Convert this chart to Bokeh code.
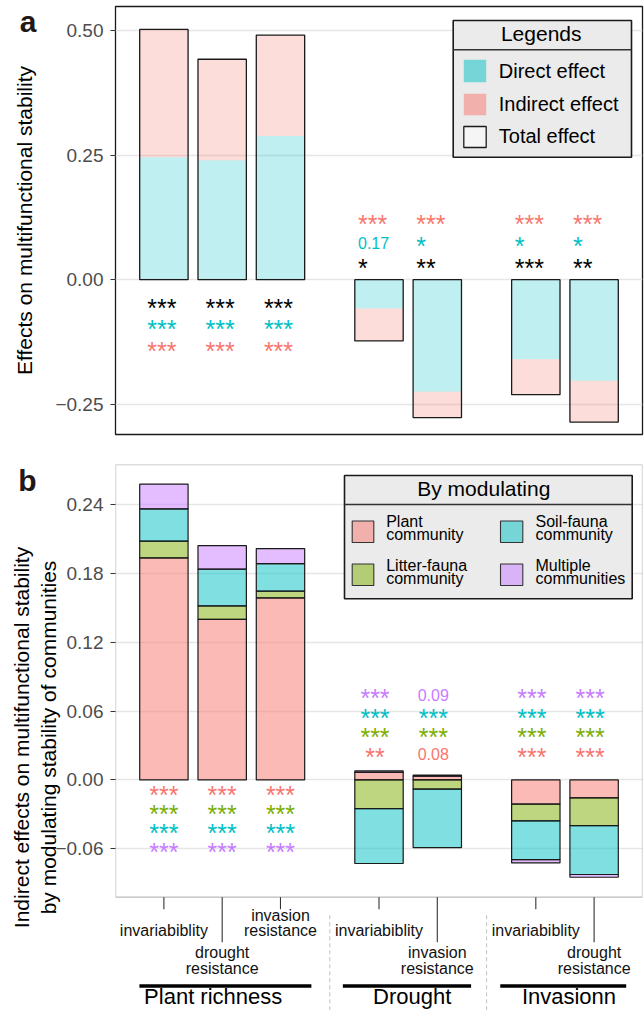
import numpy as np
from bokeh.plotting import figure
from bokeh.models import FactorRange, Range1d, FixedTicker, ColumnDataSource, BoxAnnotation, LinearAxis
from bokeh.layouts import column
from bokeh.embed import file_html
from bokeh.resources import INLINE
from bokeh.core.properties import value, field

FONT = "Liberation Sans"

# ---------------- data ----------------
groups = ["Plant richness", "Plant richness", "Plant richness", "Drought", "Drought", "Invasionn", "Invasionn"]
responses = ["invariabiblity", "drought resistance", "invasion resistance",
             "invariabiblity", "invasion resistance", "invariabiblity", "drought resistance"]
group_names = ["Plant richness", "Drought", "Invasionn"]

# panel a
direct_effect = [0.246, 0.240, 0.289, -0.058, -0.225, -0.160, -0.203]
indirect_effect = [0.257, 0.203, 0.2025, -0.065, -0.052, -0.071, -0.083]
sig_total = ["***", "***", "***", "*", "**", "***", "**"]
sig_direct = ["***", "***", "***", "0.17", "*", "*", "*"]
sig_indirect = ["***", "***", "***", "***", "***", "***", "***"]

# panel b
via_plant = [0.1936, 0.1401, 0.1587, 0.0066, 0.0032, -0.0212, -0.0157]
via_litter = [0.0146, 0.0117, 0.0059, -0.0250, -0.0081, -0.0145, -0.0241]
via_soil = [0.0282, 0.0320, 0.0241, -0.0479, -0.0509, -0.0338, -0.0427]
via_multiple = [0.0215, 0.0206, 0.0131, 0.0012, 0.0010, -0.0029, -0.0024]
sig_plant = ["***", "***", "***", "**", "0.08", "***", "***"]
sig_litter = ["***", "***", "***", "***", "***", "***", "***"]
sig_soil = ["***", "***", "***", "***", "***", "***", "***"]
sig_multiple = ["***", "***", "***", "***", "0.09", "***", "***"]

a_ticks = [-0.25, 0.0, 0.25, 0.5]
a_tick_labels = ["\u22120.25", "0.00", "0.25", "0.50"]
b_ticks = [-0.06, 0.0, 0.06, 0.12, 0.18, 0.24]
b_tick_labels = ["\u22120.06", "0.00", "0.06", "0.12", "0.18", "0.24"]

title_a = "Effects on multifunctional stability"
title_b = "Indirect effects on multifunctional stability\nby modulating stability of communities"
legend_a_labels = ["Direct effect", "Indirect effect", "Total effect"]
legend_b_labels = [["Plant", "community"], ["Litter-fauna", "community"],
                   ["Soil-fauna", "community"], ["Multiple", "communities"]]

# ---------------- colours ----------------
C_RED, C_GREEN, C_CYAN, C_PURPLE = "#F8766D", "#7CAE00", "#00BFC4", "#C77CFF"

# ---------------- layout ----------------
W, ML, MR = 644, 115, 2
FW = W - ML - MR
A_TOP, A_BOT = 6, 10
FHA = 428
A_H = A_TOP + FHA + A_BOT
B_TOP = 20
B_H = 1010 - A_H
FHB = B_H - B_TOP
A_RANGE = (-0.311, 0.549)
B_END, B_BOX = 0.2751, -0.1023
BOX_PX = 432.7
PXB = BOX_PX / (B_END - B_BOX)
B_START = B_END - FHB / PXB
PXA = FHA / (A_RANGE[1] - A_RANGE[0])

GP, RP = 0.69, 0.33
X_START = -RP
X_END = len(responses) + GP * (len(group_names) - 1) + RP
PXU = FW / (X_END - X_START)
BW = 0.83
MID = 0.35  # baseline -> middle of the em box, in em


def xs_(px):
    return X_START + px / PXU


def ya(px):
    return A_RANGE[1] - px / PXA


def yb(px):
    return B_END - px / PXB


def ybox(px):
    return B_BOX - px / PXB


def txt(p, x, y, text, size, align="left", color="#000000", xoff=0):
    """y is the text baseline; drawn with a 'middle' baseline shifted up."""
    p.text(x=x, y=y, text=text, text_align=align, text_baseline="middle",
           y_offset=-MID * size, x_offset=xoff, text_font=value(FONT),
           text_font_size=f"{size}px", text_color=color)


factors = list(zip(groups, responses))
xr = FactorRange(factors=factors, group_padding=GP, factor_padding=0.0,
                 range_padding=RP, range_padding_units="absolute")


def style(p, ticks, labels, title, title_standoff, letter, letter_y):
    p.yaxis.ticker = FixedTicker(ticks=ticks)
    p.ygrid.ticker = FixedTicker(ticks=ticks)
    ax = p.yaxis[0]
    ax.major_label_overrides = {t: l for t, l in zip(ticks, labels)}
    ax.major_label_text_font = FONT
    ax.major_label_text_font_size = "19px"
    ax.major_label_text_color = "#4D4D4D"
    ax.major_label_standoff = 7
    ax.major_tick_out = 5
    ax.major_tick_in = 0
    ax.major_tick_line_color = "#333333"
    ax.major_tick_line_width = 1.1
    ax.minor_tick_line_color = None
    ax.axis_line_color = None
    p.ygrid.grid_line_color = "#E6E6E6"
    p.ygrid.grid_line_width = 1.6
    p.xgrid.grid_line_color = None
    # outer axis: carries the panel letter (as its only tick label) and the axis title
    outer = LinearAxis(ticker=FixedTicker(ticks=[letter_y]),
                       major_label_overrides={letter_y: letter},
                       major_label_text_font=FONT, major_label_text_font_size="30px",
                       major_label_text_font_style="bold", major_label_text_color="#231815",
                       major_label_standoff=16, major_tick_out=0, major_tick_in=0,
                       major_tick_line_color=None, minor_tick_line_color=None,
                       axis_line_color=None,
                       axis_label=title, axis_label_text_font=FONT,
                       axis_label_text_font_size="21px", axis_label_text_font_style="normal",
                       axis_label_text_color="#000000", axis_label_standoff=title_standoff)
    p.add_layout(outer, "left")


def sig_layer(p, xs, ys, texts, colors, align, xoff):
    sizes = ["16px" if t[0].isdigit() else "25px" for t in texts]
    yoffs = [0 if t[0].isdigit() else 3 for t in texts]
    src = ColumnDataSource(dict(x=xs, y=ys, t=texts, c=colors, s=sizes, yo=yoffs))
    p.text(x="x", y="y", text="t", text_color=field("c"), text_font_size=field("s"),
           y_offset=field("yo"), x_offset=xoff, text_align=align, text_baseline="middle",
           text_font=value(FONT), source=src)


# ================= panel a =================
pa = figure(width=W, height=A_H, x_range=xr, y_range=Range1d(*A_RANGE),
            output_backend="svg", toolbar_location=None, tools="", x_axis_location=None,
            min_border_left=ML, min_border_right=MR, min_border_top=A_TOP, min_border_bottom=A_BOT,
            background_fill_color="white", border_fill_color="white",
            outline_line_color="#1A1A1A", outline_line_width=1.3)
style(pa, a_ticks, a_tick_labels, title_a, -19, "a", ya(15))

direct = np.array(direct_effect)
total = direct + np.array(indirect_effect)
src_a = ColumnDataSource(dict(x=factors, direct=direct, total=total))
pa.vbar(x="x", bottom=0, top="direct", width=BW, fill_color=C_CYAN, fill_alpha=0.25,
        line_color=None, source=src_a)
pa.vbar(x="x", bottom="direct", top="total", width=BW, fill_color=C_RED, fill_alpha=0.25,
        line_color=None, source=src_a)
pa.vbar(x="x", bottom=0, top="total", width=BW, fill_color=None, line_color="#1A1A1A",
        line_width=1.3, source=src_a)

rows_a = [(sig_total, "#000000"), (sig_direct, C_CYAN), (sig_indirect, C_RED)]
for side in ("pos", "neg"):
    xs, ys, ts, cs = [], [], [], []
    for k, (labels, col) in enumerate(rows_a):
        for i, f in enumerate(factors):
            if (total[i] > 0) != (side == "pos"):
                continue
            xs.append(f)
            ys.append(-0.050 - 0.0435 * k if side == "pos" else 0.030 + 0.0445 * k)
            ts.append(labels[i])
            cs.append(col)
    if side == "pos":
        sig_layer(pa, xs, ys, ts, cs, "center", -2)
    else:
        sig_layer(pa, xs, ys, ts, cs, "left", -21)

# legend a
pa.quad(left=[xs_(337.7)], right=[xs_(516)], top=[ya(14)], bottom=[ya(150.7)],
        fill_color="#EBEBEB", line_color="#1A1A1A", line_width=1.6)
pa.segment(x0=[xs_(337.7)], x1=[xs_(516)], y0=[ya(43.3)], y1=[ya(43.3)],
           line_color="#333333", line_width=1.5)
txt(pa, [xs_(425.7)], [ya(34)], ["Legends"], 21, align="center")
key_tops = [53.3, 87.3, 120]
key_bots = [75.7, 108.7, 141]
pa.quad(left=[xs_(348.3)] * 2, right=[xs_(370.7)] * 2, top=[ya(key_tops[0]), ya(key_tops[1])],
        bottom=[ya(key_bots[0]), ya(key_bots[1])], fill_color=[C_CYAN, C_RED], fill_alpha=0.5,
        line_color=None)
pa.quad(left=[xs_(348.3)], right=[xs_(370.7)], top=[ya(key_tops[2])], bottom=[ya(key_bots[2])],
        fill_color="white", fill_alpha=0.5, line_color="#1A1A1A", line_width=1.3)
txt(pa, [xs_(383.3)] * 3, [ya(71.3), ya(104.3), ya(136.7)], legend_a_labels, 20)

# ================= panel b =================
pb = figure(width=W, height=B_H, x_range=xr, y_range=Range1d(B_START, B_END),
            output_backend="svg", toolbar_location=None, tools="", x_axis_location=None,
            min_border_left=ML, min_border_right=MR, min_border_top=B_TOP, min_border_bottom=0,
            background_fill_color="white", border_fill_color="white", outline_line_color=None)
style(pb, b_ticks, b_tick_labels, title_b, -45, "b", yb(15.6))

pb.add_layout(BoxAnnotation(bottom=B_BOX, fill_color=None, fill_alpha=0,
                            line_color="#1A1A1A", line_width=1.3, level="overlay"))

layers = [(via_plant, C_RED), (via_litter, C_GREEN), (via_soil, C_CYAN), (via_multiple, C_PURPLE)]
pos = np.zeros(len(factors))
neg = np.zeros(len(factors))
net = np.zeros(len(factors))
for vals, col in layers:
    v = np.array(vals)
    bottom = np.where(v >= 0, pos, neg)
    top = bottom + v
    pos = np.where(v >= 0, top, pos)
    neg = np.where(v < 0, top, neg)
    net = net + v
    pb.vbar(x=factors, bottom=bottom, top=top, width=BW, fill_color=col, fill_alpha=0.5,
            line_color="#1A1A1A", line_width=1.2)

rows_b = [(sig_plant, C_RED), (sig_litter, C_GREEN), (sig_soil, C_CYAN), (sig_multiple, C_PURPLE)]
for side in ("pos", "neg"):
    xs, ys, ts, cs = [], [], [], []
    for k, (labels, col) in enumerate(rows_b):
        for i, f in enumerate(factors):
            if (net[i] > 0) != (side == "pos"):
                continue
            xs.append(f)
            ys.append(-0.0105 - 0.0167 * k if side == "pos" else 0.023 + 0.017 * k)
            ts.append(labels[i])
            cs.append(col)
    sig_layer(pb, xs, ys, ts, cs, "center", 0 if side == "pos" else -4)

# legend b
pb.quad(left=[xs_(229)], right=[xs_(516.7)], top=[yb(11)], bottom=[yb(134.3)],
        fill_color="#EBEBEB", line_color="#1A1A1A", line_width=1.6)
pb.segment(x0=[xs_(229)], x1=[xs_(516.7)], y0=[yb(40)], y1=[yb(40)],
           line_color="#333333", line_width=1.5)
txt(pb, [xs_(368.3)], [yb(31)], ["By modulating"], 21, align="center")
kx = [(236.7, 258.3), (236.7, 258.3), (385, 407.3), (385, 407.3)]
ky = [(56.5, 78), (99.5, 121), (56.5, 78), (99.5, 121)]
tx = [270.7, 270.7, 420, 420]
tb = [(62.7, 76), (106.5, 119.8), (62.7, 76), (106.5, 119.8)]
key_cols = [C_RED, C_GREEN, C_CYAN, C_PURPLE]
pb.quad(left=[xs_(a) for a, b in kx], right=[xs_(b) for a, b in kx],
        top=[yb(a) for a, b in ky], bottom=[yb(b) for a, b in ky],
        fill_color=key_cols, fill_alpha=0.5, line_color="#333333", line_width=1.1)
lx, lyy, lt = [], [], []
for (l1, l2), x0, (b1, b2) in zip(legend_b_labels, tx, tb):
    lx += [xs_(x0), xs_(x0)]
    lyy += [yb(b1), yb(b2)]
    lt += [l1, l2]
txt(pb, lx, lyy, lt, 16)

# custom x axis (below the panel box)
tier = [0, 1, 0, 0, 1, 0, 1]
TICK_LEN = [12, 45]
pb.segment(x0=factors, x1=factors, y0=[B_BOX] * len(factors),
           y1=[ybox(TICK_LEN[t]) for t in tier], line_color="#333333", line_width=1.1)
tx_, ty_, tt_ = [], [], []
for f, r, t in zip(factors, responses, tier):
    lines = r.split(" ")
    n = len(lines)
    for j, ln in enumerate(lines):
        if t == 0:
            base = 39.3 - 15.5 * (n - 1 - j)
        else:
            base = 61.3 + 15.5 * j
        tx_.append(f)
        ty_.append(ybox(base))
        tt_.append(ln)
txt(pb, tx_, ty_, tt_, 16, align="center", color="#111111")

# group separators, underlines, names
members = {g: [f for f in factors if f[0] == g] for g in group_names}
sep_x = [members[g][-1] + ((1 + GP) / 2,) for g in group_names[:-1]]
pb.segment(x0=sep_x, x1=sep_x, y0=[ybox(18)] * len(sep_x), y1=[B_START] * len(sep_x),
           line_color="#C8C8C8", line_width=1.1, line_dash="4 3")
pad_l = [0.42, 0.62, 0.61]
pad_r = [0.53, 0.58, 0.55]
name_shift = [-9, 4, 4]
ux0 = [members[g][0] + (-pl,) for g, pl in zip(group_names, pad_l)]
ux1 = [members[g][-1] + (pr,) for g, pr in zip(group_names, pad_r)]
pb.segment(x0=ux0, x1=ux1, y0=[ybox(88.8)] * 3, y1=[ybox(88.8)] * 3, line_color="#000000",
           line_width=3.5, line_cap="butt")
gx = [members[g][0] + ((len(members[g]) - 1) / 2,) for g in group_names]
txt(pb, gx, [ybox(107)] * 3, group_names, 22, align="center", xoff=name_shift)

layout = column(pa, pb, spacing=0)
open("out.html", "w").write(file_html(layout, INLINE))
